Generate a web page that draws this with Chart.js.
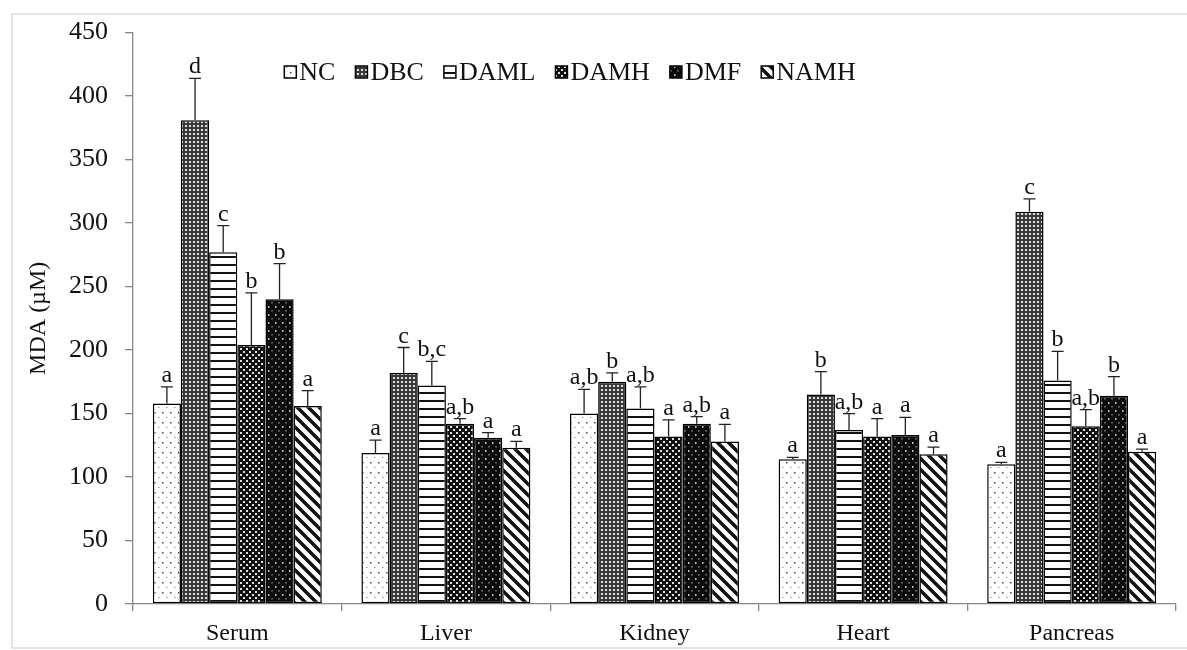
<!DOCTYPE html>
<html>
<head>
<meta charset="utf-8">
<script src="https://cdn.jsdelivr.net/npm/chart.js@4.4.0/dist/chart.umd.min.js"></script>
<style>
html, body { margin: 0; padding: 0; background: #fff; }
#wrap { position: relative; width: 1187px; height: 650px; overflow: hidden; }
#frame { position: absolute; left: 11px; top: 13px; width: 1180px; height: 632px; border: 2px solid #e4e4e4; }
#c { position: absolute; left: 0; top: 0; }
</style>
</head>
<body>
<div id="wrap"><div id="frame"></div><canvas id="c" width="1187" height="650"></canvas></div>
<script>
// tissues and treatment groups
const categories = ['Serum', 'Liver', 'Kidney', 'Heart', 'Pancreas'];
const groupNames = ['NC', 'DBC', 'DAML', 'DAMH', 'DMF', 'NAMH'];

// mean MDA (uM) per group, in category order
const ncMean   = [158, 119, 150, 114, 110];
const dbcMean  = [381, 182, 175, 165, 309];
const damlMean = [277, 172, 154, 137, 176];
const damhMean = [204, 142, 132, 132, 140];
const dmfMean  = [240, 131, 142, 133, 164];
const namhMean = [156, 123, 128, 118, 120];

// upper error (SEM)
const ncErr   = [13, 10, 19, 1.5, 1.5];
const dbcErr  = [33, 20, 7, 18, 10];
const damlErr = [21, 19, 17, 13, 23];
const damhErr = [41, 4, 13, 14, 13];
const dmfErr  = [28, 4, 5.5, 14, 15];
const namhErr = [12, 5, 13.5, 5.5, 2];

// significance letters
const ncLetters   = ['a', 'a', 'a,b', 'a', 'a'];
const dbcLetters  = ['d', 'c', 'b', 'b', 'c'];
const damlLetters = ['c', 'b,c', 'a,b', 'a,b', 'b'];
const damhLetters = ['b', 'a,b', 'a', 'a', 'a,b'];
const dmfLetters  = ['b', 'a', 'a,b', 'a', 'b'];
const namhLetters = ['a', 'a', 'a', 'a', 'a'];

const yTicks = [0, 50, 100, 150, 200, 250, 300, 350, 400, 450];

const FONT = "'Liberation Serif', 'Times New Roman', serif";

function makePattern(w, h, draw) {
    const cv = document.createElement('canvas');
    cv.width = w;
    cv.height = h;
    draw(cv.getContext('2d'));
    return document.getElementById('c').getContext('2d').createPattern(cv, 'repeat');
}

const patterns = [
    // NC: white with sparse dots
    makePattern(8, 10, function (g) {
        g.fillStyle = '#fff'; g.fillRect(0, 0, 8, 10);
        g.fillStyle = '#444'; g.fillRect(2, 2, 1.5, 1.5);
        g.fillStyle = '#999'; g.fillRect(6, 7, 1.5, 1);
    }),
    // DBC: fine gray dot mesh
    makePattern(4, 4, function (g) {
        g.fillStyle = '#383838'; g.fillRect(0, 0, 4, 4);
        g.fillStyle = '#e0e0e0'; g.fillRect(1, 1, 2, 2);
    }),
    // DAML: horizontal lines
    makePattern(8, 8, function (g) {
        g.fillStyle = '#fff'; g.fillRect(0, 0, 8, 8);
        g.fillStyle = '#111'; g.fillRect(0, 0, 8, 2);
    }),
    // DAMH: coarse black/white mesh
    makePattern(6, 6, function (g) {
        g.fillStyle = '#111'; g.fillRect(0, 0, 6, 6);
        g.fillStyle = '#ddd'; g.fillRect(0, 0, 2, 2); g.fillRect(3, 3, 2, 2);
    }),
    // DMF: black with small white dots
    makePattern(7, 8, function (g) {
        g.fillStyle = '#0a0a0a'; g.fillRect(0, 0, 7, 8);
        g.fillStyle = '#bbb'; g.fillRect(2, 2, 1.5, 2); g.fillRect(5.5, 6, 1, 1.5);
    }),
    // NAMH: diagonal stripes
    makePattern(11, 11, function (g) {
        g.fillStyle = '#fff'; g.fillRect(0, 0, 11, 11);
        g.strokeStyle = '#111'; g.lineWidth = 3.5;
        for (let k = -11; k <= 11; k += 11) {
            g.beginPath(); g.moveTo(k - 2, -2); g.lineTo(k + 13, 13); g.stroke();
        }
    })
];

const means = [ncMean, dbcMean, damlMean, damhMean, dmfMean, namhMean];
const errs = [ncErr, dbcErr, damlErr, damhErr, dmfErr, namhErr];
const letters = [ncLetters, dbcLetters, damlLetters, damhLetters, dmfLetters, namhLetters];

const datasets = groupNames.map(function (name, i) {
    return {
        label: name,
        data: means[i],
        errUp: errs[i],
        letters: letters[i],
        backgroundColor: patterns[i],
        borderColor: '#000',
        borderWidth: 1.5,
        borderSkipped: false,
        categoryPercentage: 0.81,
        barPercentage: 1.0
    };
});

// upper error bars and letters
const errorBars = {
    id: 'errorBars',
    afterDatasetsDraw: function (chart) {
        const ctx = chart.ctx;
        const y = chart.scales.y;
        ctx.save();
        chart.data.datasets.forEach(function (ds, di) {
            const meta = chart.getDatasetMeta(di);
            meta.data.forEach(function (bar, j) {
                const top = y.getPixelForValue(ds.data[j]);
                const cap = y.getPixelForValue(ds.data[j] + ds.errUp[j]);
                ctx.strokeStyle = '#222';
                ctx.lineWidth = 1.3;
                ctx.beginPath();
                ctx.moveTo(bar.x, top);
                ctx.lineTo(bar.x, cap);
                ctx.moveTo(bar.x - 6, cap);
                ctx.lineTo(bar.x + 6, cap);
                ctx.stroke();
                ctx.fillStyle = '#111';
                ctx.font = '24px ' + FONT;
                ctx.textAlign = 'center';
                ctx.textBaseline = 'alphabetic';
                ctx.fillText(ds.letters[j], bar.x, cap - 5);
            });
        });
        ctx.restore();
    }
};

// legend drawn inside the plot area
const innerLegend = {
    id: 'innerLegend',
    afterDraw: function (chart) {
        const ctx = chart.ctx;
        const box = 12, gapText = 3, gapItem = 20;
        ctx.save();
        ctx.font = '26px ' + FONT;
        let total = 0;
        chart.data.datasets.forEach(function (ds, i) {
            total += box + gapText + ctx.measureText(ds.label).width;
            if (i > 0) total += gapItem;
        });
        let x = 570 - total / 2;
        const yc = 72;
        chart.data.datasets.forEach(function (ds) {
            ctx.fillStyle = ds.backgroundColor;
            ctx.fillRect(x, yc - box / 2, box, box);
            ctx.strokeStyle = '#000';
            ctx.lineWidth = 1.5;
            ctx.strokeRect(x, yc - box / 2, box, box);
            x += box + gapText;
            ctx.fillStyle = '#111';
            ctx.textAlign = 'left';
            ctx.textBaseline = 'middle';
            ctx.fillText(ds.label, x, yc + 1);
            x += ctx.measureText(ds.label).width + gapItem;
        });
        ctx.restore();
    }
};

new Chart(document.getElementById('c'), {
    type: 'bar',
    data: {
        labels: categories,
        datasets: datasets
    },
    options: {
        responsive: false,
        devicePixelRatio: 1,
        animation: false,
        layout: { padding: { top: 25, right: 11, bottom: 0, left: 0 } },
        plugins: {
            legend: { display: false },
            tooltip: { enabled: false }
        },
        scales: {
            x: {
                afterFit: function (scale) { scale.height = 46; },
                grid: { drawOnChartArea: false, tickLength: 7, color: '#888', lineWidth: 1.3 },
                border: { color: '#888', width: 1.3 },
                ticks: { color: '#111', padding: 8, font: { family: FONT, size: 24 } }
            },
            y: {
                min: 0,
                max: 450,
                afterFit: function (scale) { scale.width = 133; },
                afterBuildTicks: function (scale) {
                    scale.ticks = yTicks.map(function (v) { return { value: v }; });
                },
                grid: { drawOnChartArea: false, tickLength: 8, color: '#888', lineWidth: 1.3 },
                border: { color: '#888', width: 1.3 },
                ticks: { color: '#111', padding: 17, font: { family: FONT, size: 26 } },
                title: {
                    display: true,
                    text: 'MDA (µM)',
                    color: '#111',
                    font: { family: FONT, size: 24 },
                    padding: { top: 24, bottom: 0 }
                }
            }
        }
    },
    plugins: [errorBars, innerLegend]
});
</script>
</body>
</html>
